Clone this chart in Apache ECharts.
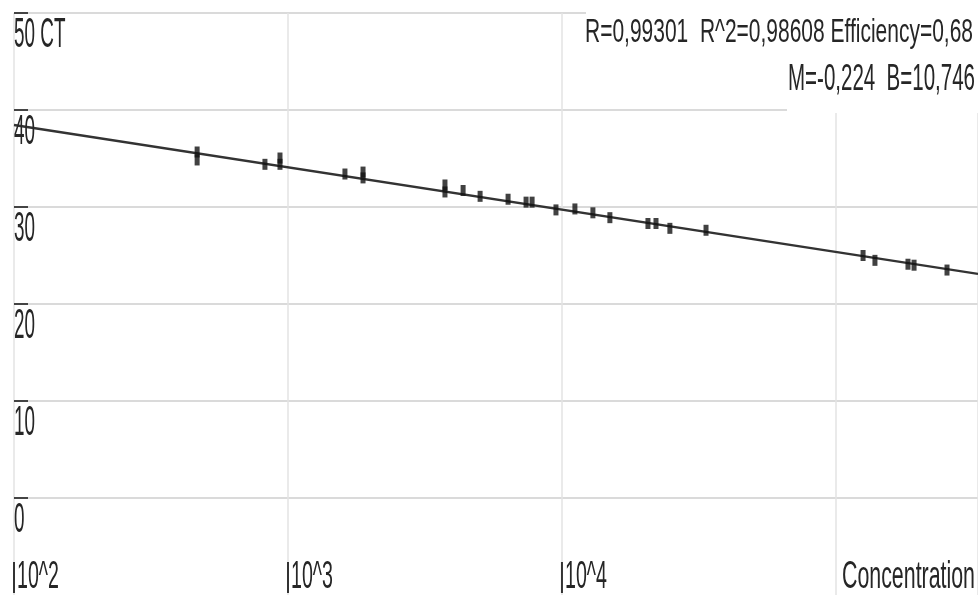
<!DOCTYPE html>
<html><head><meta charset="utf-8">
<script src="https://cdn.jsdelivr.net/npm/echarts@6/dist/echarts.min.js"></script>
<style>html,body{margin:0;padding:0;background:#fff}#c{width:978px;height:596px}</style>
</head><body><div id="c"></div>
<script>
// ---- data ----
const concentrations = [466, 466, 824, 935, 935, 1614, 1879, 1879, 3741, 3741, 4357, 5026, 6358, 7396, 7780,
  9509, 11150, 12970, 14960, 20600, 22040, 24770, 33560, 125600, 138800, 183200, 192800, 254300];
const ctValues = [35.67, 34.85, 34.4, 35.05, 34.4, 33.4, 33.6, 33.0, 32.27, 31.55, 31.7, 31.1, 30.8, 30.5, 30.5,
  29.7, 29.8, 29.4, 28.9, 28.3, 28.3, 27.8, 27.6, 25.0, 24.5, 24.1, 24.0, 23.5];
const fitConc = [100, 330000];
const fitCt = [38.45, 23.1];
const yTickValues = [0, 10, 20, 30, 40, 50];
const yTickLabels = ['0', '10', '20', '30', '40', '50 CT'];
const xTickValues = [100, 1000, 10000];
const xTickLabels = ['10^2', '10^3', '10^4'];
const xAxisTitle = 'Concentration';
const statLines = ['R=0,99301  R^2=0,98608 Efficiency=0,68', 'M=-0,224  B=10,746'];

const FONT = '"Liberation Sans", Arial, sans-serif';
const TXT = '#262626';
const chart = echarts.init(document.getElementById('c'));
const option = {
  animation: false,
  backgroundColor: '#fff',
  grid: { left: 14, right: 0, top: 13, bottom: 1 },
  xAxis: {
    type: 'log', logBase: 10, min: 100, max: 330000,
    axisLine: { show: false }, axisTick: { show: false }, axisLabel: { show: false },
    splitLine: { show: true, lineStyle: { color: '#e3e3e3', width: 1.5 } }
  },
  yAxis: {
    type: 'value', min: -10, max: 50, interval: 10,
    axisLine: { show: false }, axisTick: { show: false }, axisLabel: { show: false },
    splitLine: { show: true, showMinLine: false, lineStyle: { color: '#dadada', width: 2 } }
  },
  series: [
    { type: 'line', data: fitConc.map((c, i) => [c, fitCt[i]]), symbol: 'none',
      lineStyle: { color: '#333', width: 2.4 }, z: 2 },
    { type: 'scatter', data: concentrations.map((c, i) => [c, ctValues[i]]),
      symbol: 'rect', symbolSize: [5, 11], itemStyle: { color: '#111' }, z: 3 }
  ]
};
chart.setOption(option);

const cv = document.createElement('canvas').getContext('2d');
function measure(t, fs) { cv.font = fs + 'px ' + FONT; return cv.measureText(t).width; }
function fitText(t, fs, w, x, y, align) {
  return { type: 'text', x: x, y: y, scaleX: w / measure(t, fs), z: 20,
    style: { text: t, fontSize: fs, fontFamily: FONT, fill: TXT, textAlign: align || 'left', textVerticalAlign: 'middle' } };
}
const px = (x, y) => chart.convertToPixel({ gridIndex: 0 }, [x, y]);
const g = [];
// y ticks + labels
const yScale = 21 / measure('40', 42);
yTickValues.forEach((v, i) => {
  const p = px(100, v);
  g.push({ type: 'line', z: 20, shape: { x1: p[0], y1: p[1], x2: p[0] + 14, y2: p[1] }, style: { stroke: '#444', lineWidth: 2 } });
  g.push({ type: 'text', x: p[0], y: p[1] + 22, scaleX: yScale, z: 20,
    style: { text: yTickLabels[i], fontSize: 42, fontFamily: FONT, fill: TXT, textAlign: 'left', textVerticalAlign: 'middle' } });
});
// x ticks + labels
const bottom = px(100, -10)[1];
const xScale = 42 / measure('10^2', 38);
xTickValues.forEach((v, i) => {
  const p = px(v, -10);
  g.push({ type: 'line', z: 20, shape: { x1: p[0], y1: bottom - 33, x2: p[0], y2: bottom - 2 }, style: { stroke: '#333', lineWidth: 2 } });
  g.push({ type: 'text', x: p[0] + 3, y: bottom - 17, scaleX: xScale, z: 20,
    style: { text: xTickLabels[i], fontSize: 38, fontFamily: FONT, fill: TXT, textAlign: 'left', textVerticalAlign: 'middle' } });
});
g.push(fitText(xAxisTitle, 38, 133, 975, bottom - 17, 'right'));
// statistics box
g.push({ type: 'rect', z: 15, shape: { x: 586, y: 0, width: 392, height: 52 }, style: { fill: '#fff' } });
g.push({ type: 'rect', z: 15, shape: { x: 787, y: 50, width: 191, height: 63 }, style: { fill: '#fff' } });
g.push(fitText(statLines[0], 34, 388, 973, 33, 'right'));
g.push(fitText(statLines[1], 37, 187, 975, 80, 'right'));
chart.setOption({ graphic: g });
</script></body></html>
